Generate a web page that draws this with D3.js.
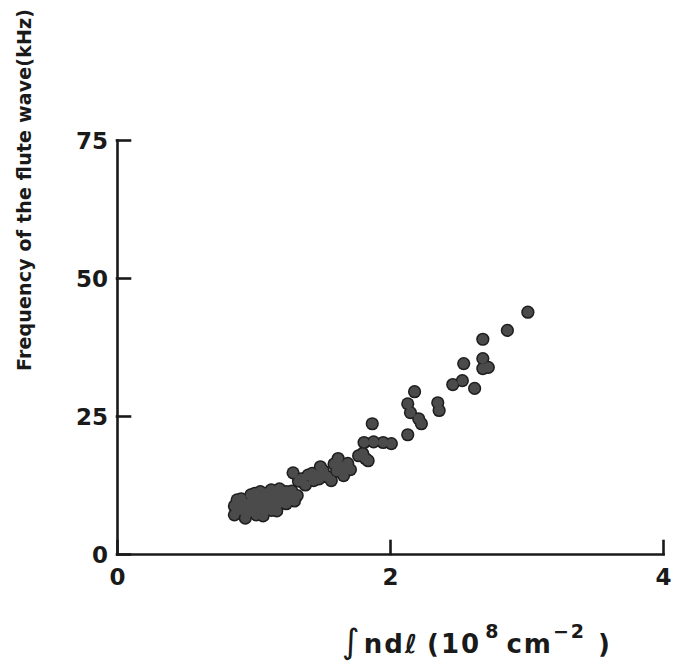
<!DOCTYPE html>
<html>
<head>
<meta charset="utf-8">
<script src="https://cdn.jsdelivr.net/npm/d3@7"></script>
<style>
  body { margin: 0; background: #fff; }
  text { font-family: "DejaVu Sans", sans-serif; font-weight: bold; fill: #1a1a1a; }
</style>
</head>
<body>
<svg class="svg_flute" width="673" height="671"></svg>
<script>
// flute wave frequency vs line density
var xTicks = [0, 2, 4];
var yTicks = [0, 25, 50, 75];

// dense group at low density
var clusterX = [0.86, 0.86, 0.89, 0.91, 0.93, 0.94, 0.97, 0.98, 1.00, 1.02, 1.04, 1.05, 1.07,
                1.07, 1.09, 1.11, 1.13, 1.14, 1.16, 1.17, 1.19, 1.20, 1.21, 1.24, 1.26, 1.27, 1.30, 1.32,
                0.88, 0.90, 0.95, 1.00, 1.03, 1.06, 1.10, 1.12, 1.15, 1.18, 1.22, 0.96, 1.01, 1.24,
                0.92, 1.05, 1.09, 1.13, 1.28];
var clusterF = [8.7, 7.1, 8.0, 10.0, 7.8, 6.5, 9.1, 10.7, 8.7, 7.1, 9.9, 11.3, 9.6,
                6.9, 8.0, 9.1, 11.6, 10.2, 8.5, 7.8, 11.8, 9.3, 10.5, 9.1, 10.2, 11.1, 9.6, 10.6,
                9.8, 9.3, 9.0, 10.0, 8.3, 10.5, 10.5, 8.8, 9.5, 10.8, 10.0, 7.5, 11.0, 11.3,
                8.6, 8.0, 11.0, 7.9, 11.4];

// the rest of the points
var freqX = [1.29, 1.35, 1.38, 1.40, 1.44, 1.48, 1.49, 1.51, 1.57, 1.59, 1.62, 1.65, 1.66, 1.71,
             1.77, 1.80, 1.82, 1.84, 1.81, 1.88, 1.95, 2.01, 1.87, 2.13, 2.13, 2.15, 2.18, 2.21,
             2.23, 2.35, 2.36, 2.46, 2.53, 2.54, 2.62, 2.68, 2.68, 2.68, 2.72, 2.86, 3.01,
             1.33, 1.43, 1.46, 1.54, 1.61, 1.69];
var freqF = [14.7, 13.6, 12.5, 14.3, 13.3, 13.6, 15.8, 15.1, 13.3, 16.3, 17.3, 15.8, 14.2, 15.3,
             17.8, 18.2, 17.3, 16.9, 20.2, 20.3, 20.2, 20.0, 23.6, 21.6, 27.2, 25.6, 29.4, 24.5,
             23.6, 27.4, 26.0, 30.7, 31.4, 34.5, 30.0, 38.9, 35.4, 33.6, 33.8, 40.5, 43.8,
             13.2, 14.6, 14.2, 14.0, 15.0, 16.4];

var points = clusterX.map(function(d, i) { return {x: d, f: clusterF[i]}; })
    .concat(freqX.map(function(d, i) { return {x: d, f: freqF[i]}; }));

var svg = d3.select(".svg_flute");

var x = d3.scaleLinear().domain([0, 4]).range([117, 663]);
var y = d3.scaleLinear().domain([0, 75]).range([554, 140]);

// axes, ticks pointing inward
var xAxis = d3.axisBottom(x).tickValues(xTicks).tickSizeInner(-13).tickSizeOuter(0).tickPadding(14)
    .tickFormat(d3.format("d"));
var yAxis = d3.axisLeft(y).tickValues(yTicks).tickSizeInner(-13).tickSizeOuter(0).tickPadding(9)
    .tickFormat(d3.format("d"));

var gx = svg.append("g")
    .attr("class", "x axis")
    .attr("transform", "translate(0," + y(0) + ")")
    .call(xAxis);
var gy = svg.append("g")
    .attr("class", "y axis")
    .attr("transform", "translate(" + x(0) + ",0)")
    .call(yAxis);

svg.selectAll(".axis path, .axis line")
    .attr("stroke", "#1a1a1a")
    .attr("stroke-width", 2.6)
    .attr("stroke-linecap", "square");
svg.selectAll(".axis text")
    .style("font-size", "23px")
    .attr("fill", "#1a1a1a");
gx.selectAll("text").attr("dy", "0.75em");
gy.selectAll("text").attr("dy", "0.36em");

// points: dark rim first, lighter fill on top so overlapping dots merge into blobs
var dots = svg.append("g");
dots.selectAll(".rim")
    .data(points)
  .enter().append("circle")
    .attr("class", "rim")
    .attr("cx", function(d) { return x(d.x); })
    .attr("cy", function(d) { return y(d.f); })
    .attr("r", 6.6)
    .style("fill", "#1e1e1e");
dots.selectAll(".dot")
    .data(points)
  .enter().append("circle")
    .attr("class", "dot")
    .attr("cx", function(d) { return x(d.x); })
    .attr("cy", function(d) { return y(d.f); })
    .attr("r", 5.1)
    .style("fill", "#4b4b4b");

// y label
svg.append("text")
    .attr("transform", "translate(31,190) rotate(-90)")
    .attr("text-anchor", "middle")
    .attr("textLength", 362)
    .attr("lengthAdjust", "spacing")
    .style("font-size", "19px")
    .text("Frequency of the flute wave(kHz)");

// x label
var xl = svg.append("text")
    .attr("x", 342)
    .attr("y", 653)
    .style("font-size", "26px")
    .style("letter-spacing", "2px");
xl.append("tspan").style("font-weight", "normal").style("font-size", "34px").text("∫");
xl.append("tspan").attr("dx", 2).text("ndℓ");
xl.append("tspan").attr("dx", 8).text("(10");
xl.append("tspan").attr("dy", -15).attr("dx", 4).style("font-size", "19px").text("8");
xl.append("tspan").attr("dy", 15).attr("dx", 6).text("cm");
xl.append("tspan").attr("dy", -15).style("font-size", "19px").text("−2");
xl.append("tspan").attr("dy", 15).attr("dx", 12).text(")");
</script>
</body>
</html>
